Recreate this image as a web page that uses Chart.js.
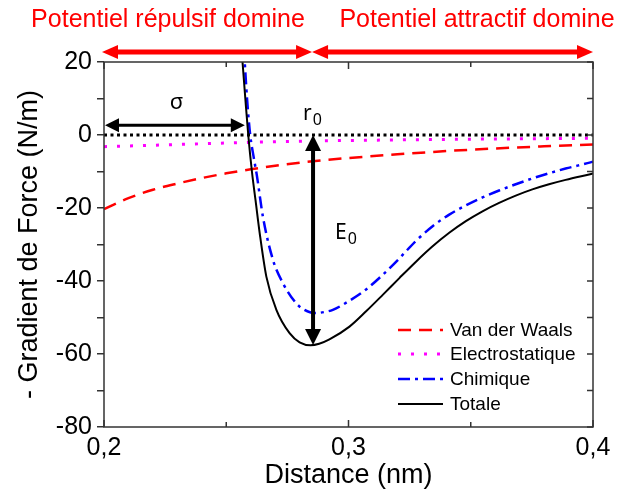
<!DOCTYPE html>
<html><head><meta charset="utf-8">
<script src="https://cdn.jsdelivr.net/npm/chart.js@4.4.1/dist/chart.umd.min.js"></script>
<style>html,body{margin:0;padding:0;background:#fff;}</style>
</head><body>
<canvas id="c" width="618" height="499"></canvas>
<script>
// ---- data ----
const vdwDist  = [0.20, 0.21, 0.22, 0.23, 0.24, 0.25, 0.26, 0.27, 0.28, 0.29, 0.30, 0.32, 0.34, 0.36, 0.38, 0.40];
const vdwGrad  = [-20.3, -17.3, -15.0, -13.3, -11.8, -10.5, -9.4, -8.4, -7.6, -6.9, -6.3, -5.3, -4.4, -3.7, -3.1, -2.6];

const elecDist = [0.20, 0.22, 0.24, 0.26, 0.28, 0.30, 0.32, 0.34, 0.36, 0.38, 0.40];
const elecGrad = [-3.2, -2.8, -2.4, -2.0, -1.7, -1.5, -1.35, -1.2, -1.1, -1.0, -0.9];

const chimDist = [0.2572, 0.2585, 0.2598, 0.2612, 0.2625, 0.2650, 0.2691, 0.2732, 0.2786, 0.2820, 0.2862, 0.2909, 0.2936, 0.3004, 0.3072, 0.3140, 0.3208, 0.3276, 0.3344, 0.3412, 0.3480, 0.3548, 0.3616, 0.3684, 0.3752, 0.3820, 0.3888, 0.3990, 0.4000];
const chimGrad = [24, 10, 0, -6, -11, -22.4, -34.2, -40.6, -46.1, -47.9, -48.8, -48.4, -47.9, -45.4, -42.3, -38.3, -33.8, -29.0, -25.0, -21.8, -19.3, -17.1, -15.2, -13.5, -11.9, -10.5, -9.2, -7.5, -7.3];

const totDist  = [0.2562, 0.2578, 0.2590, 0.2605, 0.2620, 0.2637, 0.2664, 0.2705, 0.2759, 0.2800, 0.2845, 0.2880, 0.2922, 0.3004, 0.3072, 0.3140, 0.3208, 0.3276, 0.3344, 0.3412, 0.3480, 0.3548, 0.3616, 0.3684, 0.3752, 0.3820, 0.3888, 0.3984, 0.4000];
const totGrad  = [24, 10, 0, -10, -18, -27, -38.8, -47.9, -54.3, -56.8, -57.6, -57.2, -56.0, -52.5, -48.3, -43.8, -39.2, -34.7, -30.5, -26.8, -23.6, -20.9, -18.6, -16.6, -14.9, -13.5, -12.3, -10.8, -10.55];

const zeroDist = [0.20, 0.40];
const zeroGrad = [0, 0];

const seriesLabels = ['Van der Waals', 'Electrostatique', 'Chimique', 'Totale'];
const xLabelValues = [0.2, 0.3, 0.4];
const yLabelValues = [20, 0, -20, -40, -60, -80];
const regionLabels = ['Potentiel répulsif domine', 'Potentiel attractif domine'];

// annotation anchors (data values)
const sigmaDist = 0.2576;
const r0Dist = 0.2855;
const e0Grad = -57.5;
const sigmaArrowGrad = 2.7;

const pts = (xs, ys) => xs.map((x, i) => ({x: x, y: ys[i]}));

function head(ctx, tx, ty, ux, uy, len, half) {
  const bx = tx - ux * len, by = ty - uy * len, px = -uy, py = ux;
  ctx.beginPath();
  ctx.moveTo(tx, ty);
  ctx.lineTo(bx + px * half, by + py * half);
  ctx.lineTo(bx - px * half, by - py * half);
  ctx.closePath();
  ctx.fill();
}
function dblArrow(ctx, x1, y1, x2, y2, w, len, half, color) {
  const dx = x2 - x1, dy = y2 - y1, L = Math.hypot(dx, dy), ux = dx / L, uy = dy / L;
  ctx.save();
  ctx.strokeStyle = color; ctx.fillStyle = color; ctx.lineWidth = w; ctx.setLineDash([]);
  ctx.beginPath();
  ctx.moveTo(x1 + ux * len * 0.7, y1 + uy * len * 0.7);
  ctx.lineTo(x2 - ux * len * 0.7, y2 - uy * len * 0.7);
  ctx.stroke();
  head(ctx, x2, y2, ux, uy, len, half);
  head(ctx, x1, y1, -ux, -uy, len, half);
  ctx.restore();
}
function subText(ctx, main, sub, x, y, size, subSize) {
  ctx.font = size + 'px "Noto Sans"';
  ctx.textAlign = 'left'; ctx.textBaseline = 'alphabetic';
  ctx.fillText(main, x, y);
  const w = ctx.measureText(main).width;
  ctx.font = subSize + 'px "Noto Sans"';
  ctx.fillText(sub, x + w + 1, y + subSize * 0.3);
}

const decor = {
  id: 'decor',
  afterDatasetsDraw(chart) {
    const ctx = chart.ctx, xs = chart.scales.x, ys = chart.scales.y, a = chart.chartArea;
    // frame
    ctx.save();
    ctx.strokeStyle = '#333'; ctx.lineWidth = 1.5; ctx.setLineDash([]);
    ctx.strokeRect(a.left, a.top, a.right - a.left, a.bottom - a.top);
    ctx.beginPath();
    xs.ticks.forEach(t => {
      const px = xs.getPixelForValue(t.value);
      const major = xLabelValues.some(v => Math.abs(v - t.value) < 1e-6);
      const l = major ? 7 : 5;
      ctx.moveTo(px, a.top); ctx.lineTo(px, a.top + l);
      ctx.moveTo(px, a.bottom); ctx.lineTo(px, a.bottom - l);
    });
    ys.ticks.forEach(t => {
      const py = ys.getPixelForValue(t.value);
      ctx.moveTo(a.right, py); ctx.lineTo(a.right - 6, py);
    });
    ctx.stroke();
    ctx.restore();

    // sigma arrow
    const ySig = ys.getPixelForValue(sigmaArrowGrad);
    dblArrow(ctx, xs.getPixelForValue(0.2) + 1, ySig, xs.getPixelForValue(sigmaDist), ySig, 3, 14, 7, '#000');
    // E0 arrow
    const xr0 = xs.getPixelForValue(r0Dist);
    dblArrow(ctx, xr0, ys.getPixelForValue(0), xr0, ys.getPixelForValue(e0Grad), 4, 16, 8, '#000');
    // top red arrows
    const yTop = a.top - 10;
    dblArrow(ctx, xs.getPixelForValue(0.2) - 2, yTop, xr0 - 1, yTop, 5, 16, 7, '#ff0000');
    dblArrow(ctx, xr0 - 1, yTop, xs.getPixelForValue(0.4), yTop, 5, 16, 7, '#ff0000');

    ctx.save();
    ctx.fillStyle = '#ff0000';
    ctx.font = '25px "Liberation Sans"';
    ctx.textAlign = 'center'; ctx.textBaseline = 'alphabetic';
    ctx.fillText(regionLabels[0], 168, 27);
    ctx.fillText(regionLabels[1], 477, 27);
    ctx.restore();

    ctx.save();
    ctx.fillStyle = '#000';
    ctx.font = '22px "Noto Sans"';
    ctx.textAlign = 'center'; ctx.textBaseline = 'middle';
    ctx.fillText('σ', (xs.getPixelForValue(0.2) + xs.getPixelForValue(sigmaDist)) / 2 + 2, ys.getPixelForValue(sigmaArrowGrad) - 22);
    subText(ctx, 'r', '0', xr0 - 10, ys.getPixelForValue(0) - 15, 21, 16);
    subText(ctx, 'E', '0', xr0 + 22, ys.getPixelForValue(-28.5), 21, 16);
    ctx.restore();

    // legend
    ctx.save();
    const lx1 = 398, lx2 = 443, tx = 450, rows = [330, 354, 379, 404];
    seriesLabels.forEach((lab, i) => {
      const ds = chart.data.datasets.find(d => d.label === lab);
      ctx.strokeStyle = ds.borderColor; ctx.lineWidth = ds.borderWidth;
      ctx.setLineDash(ds.borderDash || []);
      ctx.beginPath(); ctx.moveTo(lx1, rows[i]); ctx.lineTo(lx2, rows[i]); ctx.stroke();
      ctx.setLineDash([]);
      ctx.fillStyle = '#000';
      ctx.font = '19px "Liberation Sans"';
      ctx.textAlign = 'left'; ctx.textBaseline = 'middle';
      ctx.fillText(lab, tx, rows[i] + 1);
    });
    ctx.restore();
  }
};

const common = {pointRadius: 0, pointHoverRadius: 0, fill: false, cubicInterpolationMode: 'monotone', showLine: true};

new Chart(document.getElementById('c'), {
  type: 'scatter',
  data: {
    datasets: [
      Object.assign({label: '', data: pts(zeroDist, zeroGrad), borderColor: '#000', borderWidth: 3, borderDash: [3, 3.5], order: 0}, common),
      Object.assign({label: 'Totale', data: pts(totDist, totGrad), borderColor: '#000', borderWidth: 2, order: 1}, common),
      Object.assign({label: 'Chimique', data: pts(chimDist, chimGrad), borderColor: '#0000ff', borderWidth: 2.5, borderDash: [12, 5, 3, 5], order: 2}, common),
      Object.assign({label: 'Electrostatique', data: pts(elecDist, elecGrad), borderColor: '#ff00ff', borderWidth: 3, borderDash: [3, 10], order: 3}, common),
      Object.assign({label: 'Van der Waals', data: pts(vdwDist, vdwGrad), borderColor: '#ff0000', borderWidth: 2.5, borderDash: [13, 8], order: 4}, common)
    ]
  },
  options: {
    responsive: false,
    animation: false,
    devicePixelRatio: 1,
    layout: {padding: {top: 62, right: 25, left: 0, bottom: 0}},
    plugins: {legend: {display: false}, tooltip: {enabled: false}},
    scales: {
      x: {
        type: 'linear', min: 0.2, max: 0.4,
        afterFit(s) { s.height = 72; },
        border: {display: false},
        grid: {display: false, drawTicks: false},
        ticks: {
          stepSize: 0.05, autoSkip: false, maxRotation: 0, padding: 6, color: '#000',
          font: {family: 'Liberation Sans', size: 25},
          callback(v) {
            const k = Math.round(v * 100);
            return xLabelValues.some(x => Math.round(x * 100) === k) ? (k / 100).toFixed(1).replace('.', ',') : '';
          }
        },
        title: {display: true, text: 'Distance (nm)', color: '#000', font: {family: 'Liberation Sans', size: 27}, padding: {top: 0, bottom: 7}}
      },
      y: {
        type: 'linear', min: -80, max: 20,
        afterFit(s) { s.width = 104; },
        border: {display: false},
        grid: {display: true, drawOnChartArea: false, drawTicks: true, tickLength: 7, color: '#333', lineWidth: 1.5},
        ticks: {
          stepSize: 10, autoSkip: false, padding: 5, color: '#000',
          font: {family: 'Liberation Sans', size: 25},
          callback(v) { return yLabelValues.includes(v) ? String(v) : ''; }
        },
        title: {display: true, text: '- Gradient de Force (N/m)', color: '#000', font: {family: 'Liberation Sans', size: 27}, padding: {top: 13, bottom: 0}}
      }
    }
  },
  plugins: [decor]
});
</script>
</body></html>
